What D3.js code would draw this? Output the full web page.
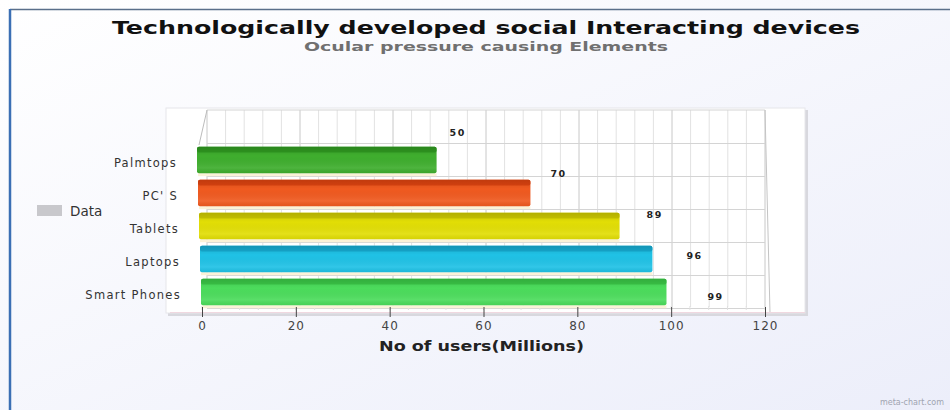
<!DOCTYPE html>
<html><head><meta charset="utf-8">
<script src="https://cdn.jsdelivr.net/npm/d3@7"></script>
<style>html,body{margin:0;padding:0;background:#fff;}svg{display:block;}</style>
</head><body>
<svg id="c" width="950" height="410"></svg>
<script>
const categories = ["Palmtops", "PC' S", "Tablets", "Laptops", "Smart Phones"];
const values = [50, 70, 89, 96, 99];
const barColors = ["#3fae2e", "#f05a20", "#e2de06", "#20c2e6", "#4cdc5c"];
const barTopColors = ["#2e961f", "#d8400e", "#c9c400", "#15a6cc", "#38c244"];
const tickValues = [0, 20, 40, 60, 80, 100, 120];
const title = "Technologically developed social Interacting devices";
const subtitle = "Ocular pressure causing Elements";
const xTitle = "No of users(Millions)";
const legendLabel = "Data";

const svg = d3.select("#c");
const defs = svg.append("defs");
const bg = defs.append("linearGradient").attr("id","bg").attr("x1",0).attr("y1",0).attr("x2",1).attr("y2",1);
bg.append("stop").attr("offset","0%").attr("stop-color","#ffffff");
bg.append("stop").attr("offset","100%").attr("stop-color","#eceefa");
svg.append("rect").attr("width",950).attr("height",410).attr("fill","url(#bg)");
const bt = defs.append("linearGradient").attr("id","bt").attr("x1",0).attr("y1",0).attr("x2",0).attr("y2",1);
bt.append("stop").attr("offset","0%").attr("stop-color","#000").attr("stop-opacity",0.12);
bt.append("stop").attr("offset","35%").attr("stop-color","#000").attr("stop-opacity",0.0);
bt.append("stop").attr("offset","80%").attr("stop-color","#fff").attr("stop-opacity",0.08);
bt.append("stop").attr("offset","100%").attr("stop-color","#000").attr("stop-opacity",0.05);
// borders
svg.append("line").attr("x1",10).attr("x2",950).attr("y1",9.5).attr("y2",9.5).attr("stroke","#5a6f8a").attr("stroke-width",1.5);
svg.append("line").attr("x1",10).attr("x2",10).attr("y1",9).attr("y2",410).attr("stroke","#3b6fb4").attr("stroke-width",2.5);

// scales
const x = d3.scaleLinear().domain([0,120]).range([202,765]);
const xBack = d3.scaleLinear().domain([0,120]).range([207,765]);
const y = d3.scaleBand().domain(categories).range([143.5,308.5]).paddingInner(0.2).paddingOuter(0.1);
const yLab = d3.scaleBand().domain(categories).range([112,317]);

// plot frame
svg.append("rect").attr("x",168).attr("y",110).attr("width",640).attr("height",206).attr("fill","#d8d8de");
svg.append("rect").attr("x",166).attr("y",108).attr("width",639).attr("height",205).attr("fill","#ffffff").attr("stroke","#e6e6ea");

// back wall grid
const g = svg.append("g");
const minor = d3.range(0,121,4);
g.selectAll("line.v").data(minor).join("line")
  .attr("x1",d=>xBack(d)).attr("x2",d=>xBack(d)).attr("y1",110).attr("y2",307)
  .attr("stroke",d=>d%20===0?"#c8c8c8":"#e2e2e2").attr("stroke-width",1);
const bounds = categories.map(c=>y(c)-y.step()*y.paddingInner()/2);
bounds.push(y(categories[categories.length-1])+y.bandwidth()+y.step()*y.paddingInner()/2);
g.selectAll("line.h").data(bounds).join("line")
  .attr("x1",xBack(0)).attr("x2",xBack(120)).attr("y1",d=>d).attr("y2",d=>d)
  .attr("stroke","#d4d4d4");
g.append("line").attr("x1",xBack(0)).attr("x2",xBack(120)).attr("y1",110).attr("y2",110).attr("stroke","#d4d4d4");
g.append("line").attr("x1",xBack(0)).attr("y1",110).attr("x2",199).attr("y2",145).attr("stroke","#bcbcbc");
g.append("line").attr("x1",xBack(120)).attr("y1",110).attr("x2",770).attr("y2",313).attr("stroke","#c4c4c4");
// floor
svg.append("line").attr("x1",170).attr("x2",805).attr("y1",312.5).attr("y2",312.5).attr("stroke","#f0d8e0");
svg.selectAll("line.ft").data(d3.range(0,121,4)).join("line")
  .attr("x1",d=>x(d)).attr("x2",d=>x(d)).attr("y1",306).attr("y2",310).attr("stroke","#e0e0e0");

// bars
const bars = svg.append("g");
categories.forEach((c,i)=>{
  const y0 = y(c), h = y.bandwidth();
  const bx = x(0)-5+i, bw = x(values[i])-x(0)+5-i;
  bars.append("rect").attr("x",bx+1).attr("y",y0+h).attr("width",bw-1).attr("height",3)
    .attr("fill","#fbf2d8");
  bars.append("rect").attr("x",bx).attr("y",y0).attr("width",bw).attr("height",h)
    .attr("fill",barColors[i]).attr("rx",2);
  bars.append("rect").attr("x",bx).attr("y",y0).attr("width",bw).attr("height",h*0.22)
    .attr("fill",barTopColors[i]).attr("rx",2).attr("opacity",0.9);
  bars.append("rect").attr("x",bx).attr("y",y0).attr("width",bw).attr("height",h)
    .attr("fill","url(#bt)").attr("rx",2);
});

// value labels
svg.append("g").selectAll("text").data(categories).join("text")
  .attr("x",(c,i)=>x(values[i])+13+7*i)
  .attr("y",c=>yLab(c)+yLab.bandwidth()/2)
  .attr("dy","0.35em")
  .attr("font-family","DejaVu Sans").attr("font-weight","bold").attr("font-size",9.5).attr("fill","#222")
  .attr("letter-spacing",1.5)
  .text((c,i)=>values[i]);

// category labels
svg.append("g").selectAll("text").data(categories).join("text")
  .attr("x",(c,i)=>177+i)
  .attr("y",c=>y(c)+y.bandwidth()/2+3)
  .attr("dy","0.35em").attr("text-anchor","end")
  .attr("font-family","DejaVu Sans").attr("font-size",11.5).attr("fill","#333")
  .attr("letter-spacing",1.3)
  .text(c=>c);

// x axis
const xa = svg.append("g").attr("transform","translate(0,307)")
  .call(d3.axisBottom(x).tickValues(tickValues).tickSize(10).tickPadding(4));
xa.select(".domain").remove();
xa.selectAll("line").attr("stroke","#444");
xa.selectAll("text").attr("font-family","DejaVu Sans").attr("font-size",12).attr("fill","#444").attr("letter-spacing",1);

svg.append("text").attr("x",x(60)-2).attr("y",351).attr("text-anchor","middle")
  .attr("font-family","DejaVu Sans").attr("font-weight","bold").attr("font-size",14).attr("fill","#222")
  .attr("textLength",205).attr("lengthAdjust","spacingAndGlyphs").text(xTitle);

// titles
svg.append("text").attr("x",486).attr("y",34).attr("text-anchor","middle")
  .attr("font-family","DejaVu Sans").attr("font-weight","bold").attr("font-size",17).attr("fill","#111")
  .attr("textLength",748).attr("lengthAdjust","spacingAndGlyphs").text(title);
svg.append("text").attr("x",486).attr("y",51).attr("text-anchor","middle")
  .attr("font-family","DejaVu Sans").attr("font-weight","bold").attr("font-size",12).attr("fill","#707070")
  .attr("textLength",364).attr("lengthAdjust","spacingAndGlyphs").text(subtitle);

// legend
svg.append("rect").attr("x",37).attr("y",205).attr("width",25).attr("height",11).attr("fill","#c8c8cc");
svg.append("text").attr("x",70).attr("y",211).attr("dy","0.35em")
  .attr("font-family","DejaVu Sans").attr("font-size",13.5).attr("fill","#333").text(legendLabel);

// watermark
svg.append("text").attr("x",944).attr("y",405).attr("text-anchor","end")
  .attr("font-family","DejaVu Sans").attr("font-size",8).attr("fill","#a0a4b0").text("meta-chart.com");
</script>
</body></html>
